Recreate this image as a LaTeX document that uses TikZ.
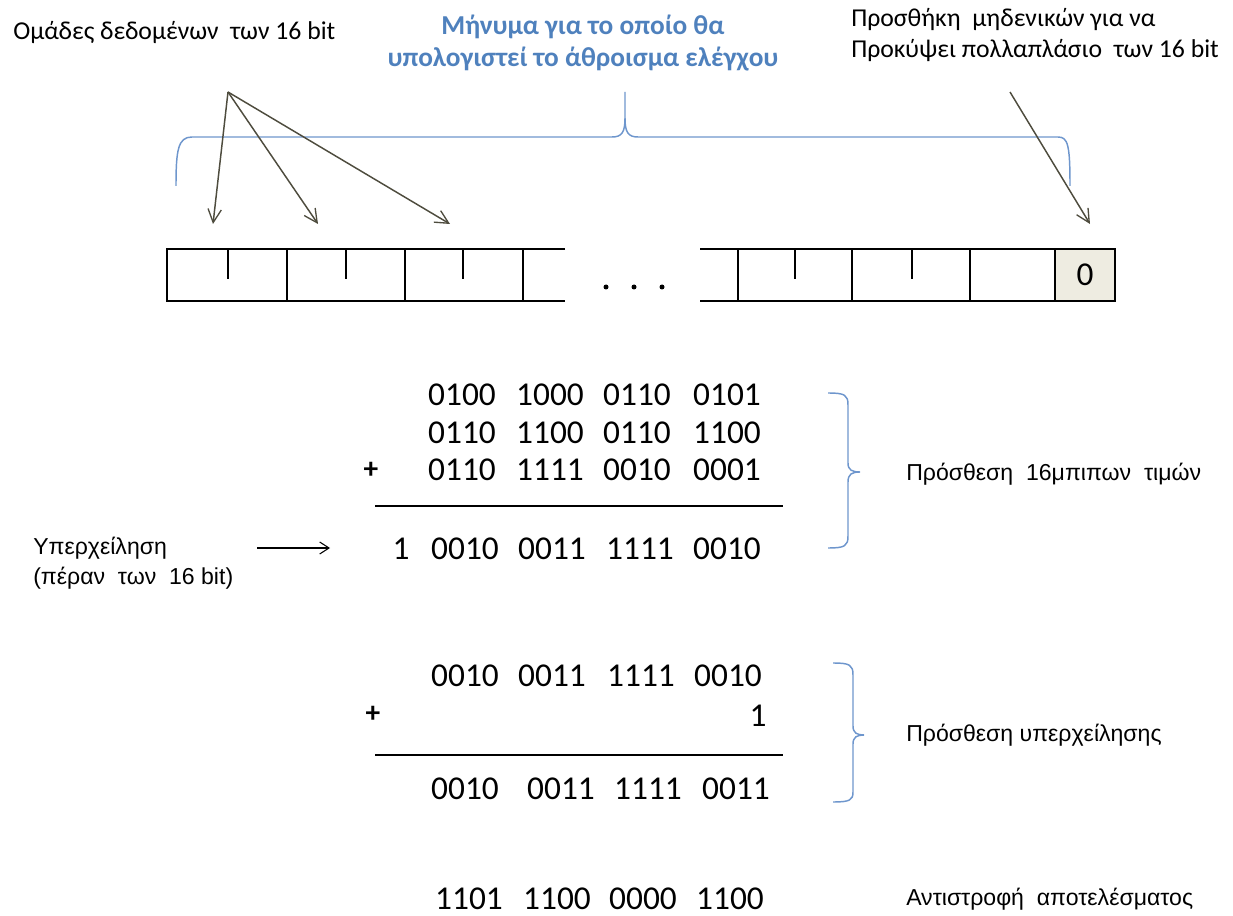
\documentclass[tikz,border=0pt]{standalone}
\usepackage{fontspec}
\setmainfont{Carlito}
\newfontfamily\arialf{Liberation Sans}
\usetikzlibrary{arrows.meta}
\definecolor{bluetxt}{RGB}{79,129,189}
\definecolor{bracec}{RGB}{110,150,205}
\definecolor{arrc}{RGB}{78,76,62}
\definecolor{beige}{RGB}{238,236,225}
\begin{document}
\begin{tikzpicture}[x=0.75pt,y=-0.75pt,
  lbl/.style={inner sep=0pt, anchor=west, font=\fontsize{19.3}{23}\selectfont},
  albl/.style={inner sep=0pt, anchor=west, font=\arialf\fontsize{17.3}{22.5}\selectfont},
  num/.style={inner sep=0pt, anchor=base, font=\fontsize{25}{28}\selectfont},
  plus/.style={inner sep=0pt, font=\bfseries\fontsize{22}{24}\selectfont},
  grparr/.style={draw=arrc, line width=1.1pt, -{Straight Barb[length=10pt,width=10pt,line width=1pt]}},
  boxline/.style={line width=2.2pt, black},
  tick/.style={line width=1.1pt, black},
  sumline/.style={line width=2.2pt, black},
  brc/.style={draw=bracec, line width=1.1pt},
]
\useasboundingbox (0,0) rectangle (1233,916);

% ---- top texts
\node[lbl] (groups) at (13,33) {Ομάδες δεδομένων\ \ των 16 bit};
\node[inner sep=0pt, align=center, text=bluetxt, font=\bfseries\fontsize{20.5}{23.5}\selectfont] (msg) at (583,43)
  {Μήνυμα για το οποίο θα\\υπολογιστεί το άθροισμα ελέγχου};
\node[lbl, align=left] (pad) at (851,35)
  {Προσθήκη\ \ μηδενικών για να\\Προκύψει πολλαπλάσιο\ \ των 16 bit};

% ---- big brace
\draw[brc] (176,186) .. controls (176,150) and (178,137) .. (192,137)
  -- (612,137) .. controls (622,137) and (625,132) .. (625,118) -- (625,92)
  (625,118) .. controls (625,132) and (628,137) .. (638,137)
  -- (1058,137) .. controls (1068,137) and (1070,145) .. (1070,186);

% ---- arrows
\coordinate (src) at (228,92);
\coordinate (t1) at (213,224);
\coordinate (t2) at (318,224);
\coordinate (t3) at (450,224);
\coordinate (psrc) at (1010,92);
\coordinate (pt) at (1090,224);
\draw[grparr] (src) -- (t1);
\draw[grparr] (src) -- (t2);
\draw[grparr] (src) -- (t3);
\draw[grparr] (psrc) -- (pt);

% ---- message boxes
\node[fill=beige, minimum width=60*0.75pt, minimum height=52*0.75pt, inner sep=0pt,
  font=\fontsize{25}{28}\selectfont] (zero) at (1085,275) {0};
\draw[boxline] (565,249) -- (167,249) -- (167,301) -- (565,301);
\foreach \x in {287,405,523} \draw[boxline] (\x,249) -- (\x,301);
\foreach \x in {228,346,463} \draw[tick] (\x,249) -- (\x,279);
\draw[boxline] (700,249) -- (1115,249) -- (1115,301) -- (700,301);
\foreach \x in {738,852,970,1055} \draw[boxline] (\x,249) -- (\x,301);
\foreach \x in {795,912} \draw[tick] (\x,249) -- (\x,279);
\foreach \x in {606,634,662} \fill (\x,287) circle (2.5);

% ---- first addition
\foreach \g/\xx in {0100/462,1000/550,0110/637,0101/727} \node[num] at (\xx,406) {\g};
\foreach \g/\xx in {0110/462,1100/550,0110/637,1100/727} \node[num] at (\xx,444) {\g};
\foreach \g/\xx in {0110/462,1111/550,0010/637,0001/727} \node[num] at (\xx,481) {\g};
\node[plus] (p1) at (371,470) {+};
\draw[sumline] (375,506) -- (783,506);
\node[num] (carry) at (401,559) {1};
\node[num] (r1) at (465,559) {0010};
\node[num] (r2) at (552,559) {0011};
\node[num] (r3) at (640,559) {1111};
\node[num] (r4) at (727,559) {0010};
\draw[brc] (828,393) .. controls (845,393) and (848,395) .. (848,405) -- (848,463)
  .. controls (848,470) and (852,472) .. (860,472)
  .. controls (852,472) and (848,474) .. (848,482) -- (848,536)
  .. controls (848,546) and (845,548) .. (828,548);
\node[albl] (lab1) at (906,474) {Πρόσθεση\ \ 16μπιπων\ \ τιμών};

\node[albl, align=left] (ovf) at (33,563) {Υπερχείληση\\(πέραν\ \ των\ \ 16 bit)};
\coordinate (ovfs) at (257,548);
\coordinate (ovfe) at (330,548);
\draw[line width=0.8pt, -{Straight Barb[length=7pt,width=9pt,line width=0.8pt]}] (ovfs) -- (ovfe);

% ---- second addition
\foreach \g/\xx in {0010/465,0011/552,1111/641,0010/728} \node[num] at (\xx,686) {\g};
\node[plus] (p2) at (373,714) {+};
\node[num] (one) at (758,726) {1};
\draw[sumline] (375,755) -- (783,755);
\foreach \g/\xx in {0010/465,0011/561,1111/648,0011/736} \node[num] at (\xx,799) {\g};
\draw[brc] (833,663) .. controls (850,663) and (853,665) .. (853,675) -- (853,726)
  .. controls (853,733) and (857,735) .. (864,735)
  .. controls (857,735) and (853,737) .. (853,744) -- (853,792)
  .. controls (853,800) and (850,802) .. (833,802);
\node[albl] (lab2) at (906,735) {Πρόσθεση υπερχείλησης};

% ---- inverted result
\foreach \g/\xx in {1101/469,1100/557,0000/643,1100/730} \node[num] at (\xx,909) {\g};
\node[albl] (lab3) at (906,899) {Αντιστροφή\ \ αποτελέσματος};
\end{tikzpicture}
\end{document}
